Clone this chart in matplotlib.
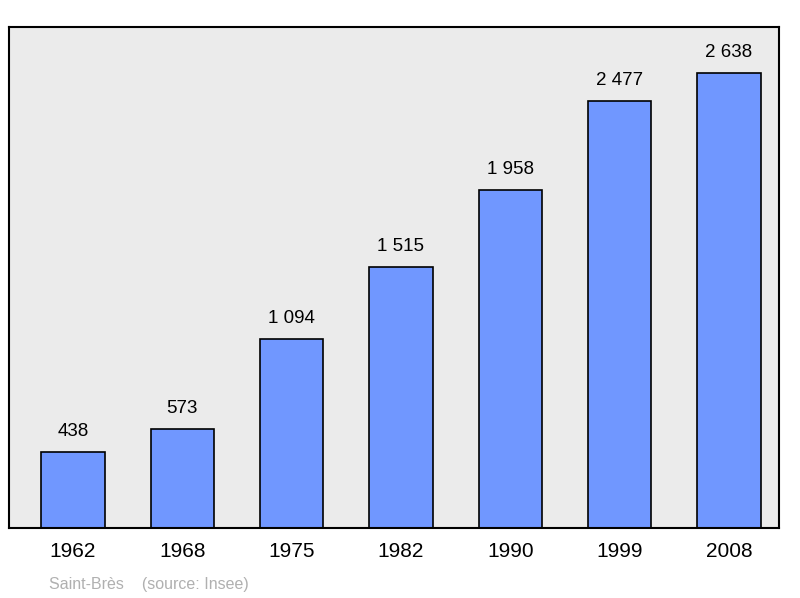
import matplotlib
matplotlib.use("Agg")
import matplotlib.pyplot as plt

years = ["1962", "1968", "1975", "1982", "1990", "1999", "2008"]
population = [438, 573, 1094, 1515, 1958, 2477, 2638]
value_labels = ["438", "573", "1 094", "1 515", "1 958", "2 477", "2 638"]

plt.rcParams['font.family'] = ['Liberation Sans', 'DejaVu Sans']

fig = plt.figure(figsize=(8, 5.98), dpi=100)
ax = fig.add_axes([9/800, 70/598, 770/800, 501/598])
ax.set_facecolor("#ebebeb")

x = list(range(len(years)))
ax.bar(x, population, width=0.58, color="#7097ff", edgecolor="black", linewidth=1.2, zorder=2)
for xi, v, lab in zip(x, population, value_labels):
    ax.text(xi, v + 70, lab, ha="center", va="bottom", fontsize=13.5)

ax.set_xlim(-0.585, 6.457)
ax.set_ylim(0, 2905)
ax.set_xticks(x)
ax.set_xticklabels(years, fontsize=15)
ax.tick_params(axis="x", length=0, pad=10)
ax.set_yticks([])
for s in ax.spines.values():
    s.set_linewidth(1.5)

fig.text(49/800, 1 - 584/598, "Saint-Brès    (source: Insee)", color="#b0b0b0",
         fontsize=11.5, va="center", ha="left")

fig.savefig("out.png", dpi=100)
